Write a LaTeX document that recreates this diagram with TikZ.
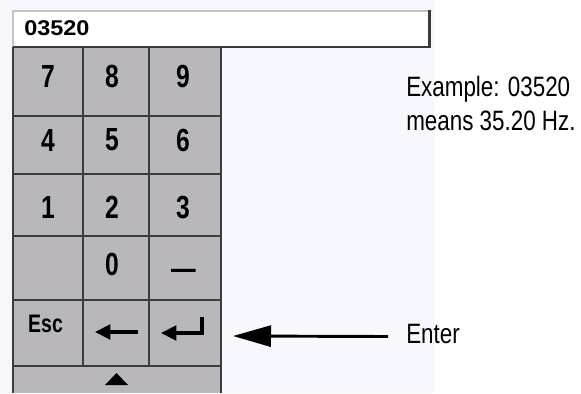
\documentclass[tikz,border=0pt]{standalone}
\usepackage{fontspec}
\usetikzlibrary{arrows.meta}
\newfontfamily\keyfont[FakeStretch=0.77]{Liberation Sans}
\newfontfamily\notefont[FakeStretch=0.8]{Liberation Sans}
\newfontfamily\fieldfont[FakeStretch=1.1]{Liberation Sans}
\definecolor{keygray}{HTML}{B9B7BB}
\definecolor{gridline}{HTML}{3C3C3C}
\definecolor{panelbg}{HTML}{F7F8FD}
\definecolor{rimgray}{HTML}{C4C4C4}

\begin{document}
\begin{tikzpicture}[x=0.75pt, y=-0.75pt,
				   keyline/.style={draw=gridline, line width=1.2pt},
				   keylabel/.style={font=\keyfont\bfseries\fontsize{24}{24}\selectfont, inner sep=0pt},
				   esclabel/.style={font=\keyfont\bfseries\fontsize{19}{19}\selectfont, inner sep=0pt},
				   note/.style={font=\notefont\fontsize{21}{25}\selectfont, anchor=base west, inner sep=0pt},
				   keyarrow/.style={line width=2.4pt, -{Triangle[length=11.5pt, width=11pt]}},
				   callout/.style={line width=2.2pt, -{Triangle[length=28.5pt, width=15.75pt]}}]
\useasboundingbox (0,0) rectangle (581,393);
\clip (0,0) rectangle (581,393);
\fill[panelbg] (0,0) rectangle (435,393);

% read-out field
\fill[white] (13,10) rectangle (430,47);
\draw[rimgray, line width=1.5pt] (13,47) -- (13,11) -- (430,11);
\draw[gridline, line width=2.2pt] (429.5,10) -- (429.5,47) -- (13,47);
\node[font=\fieldfont\bfseries\fontsize{16}{16}\selectfont, anchor=base west, inner sep=0pt] (readout) at (24,35) {03520};

% keypad grid
\fill[keygray] (13,48) rectangle (221,393);
\draw[keyline] (13,47) -- (13,393) (221,47) -- (221,393)
	(83,47) -- (83,366) (149,47) -- (149,366)
	(13,116) -- (221,116) (13,174) -- (221,174) (13,236) -- (221,236)
	(13,300) -- (221,300) (13,366) -- (221,366);

% key labels
\node[keylabel] (k7) at (48,76.5) {7};
\node[keylabel] (k8) at (112,76.5) {8};
\node[keylabel] (k9) at (183,76.5) {9};
\node[keylabel] (k4) at (48,140) {4};
\node[keylabel] (k5) at (112,140) {5};
\node[keylabel] (k6) at (183,140) {6};
\node[keylabel] (k1) at (48,207.5) {1};
\node[keylabel] (k2) at (112,207.5) {2};
\node[keylabel] (k3) at (183,207.5) {3};
\node[keylabel] (k0) at (112,264) {0};
\node[keylabel, anchor=base] (kminus) at (183.5,279) {—};
\node[esclabel] (kesc) at (45.5,324) {Esc};

% backspace and return symbols
\coordinate (bsend) at (138,332);
\coordinate (bstip) at (95,332);
\draw[keyarrow] (bsend) -- (bstip);
\coordinate (rettop) at (202,317);
\coordinate (rettip) at (161,333);
\draw[keyarrow] (rettop) |- (rettip);

% scroll key
\fill (105,385) -- (116.5,373) -- (128,385) -- cycle;

% notes
\node[note] (example) at (406,96.7) {Example: 03520};
\node[note] (meaning) at (406,130.7) {means 35.20 Hz.};
\node[note] (enter) at (406,343) {Enter};
\coordinate (retkey) at (233,336);
\draw[callout] ([shift={(-18,3)}]enter.west) -- (retkey);
\end{tikzpicture}
\end{document}
